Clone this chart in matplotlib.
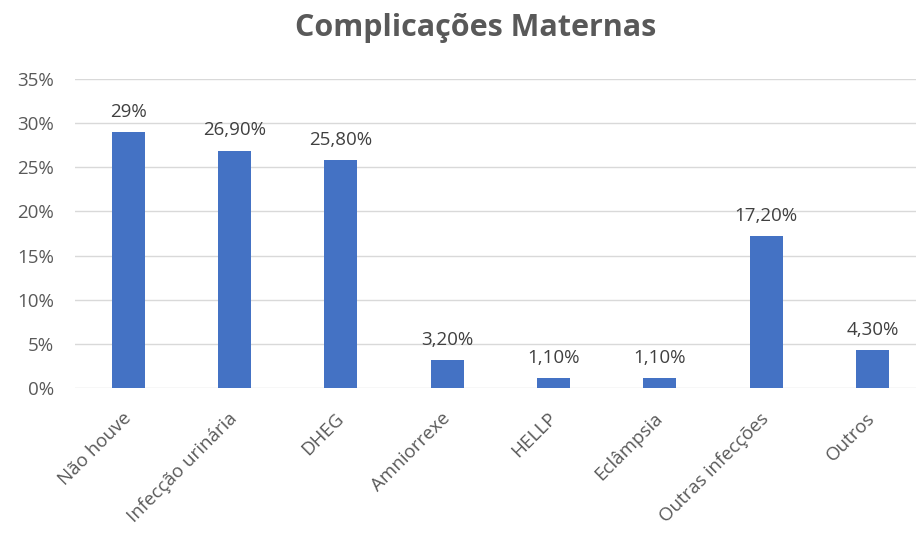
import matplotlib
matplotlib.use("Agg")
from matplotlib import pyplot as plt
from matplotlib.ticker import FuncFormatter

# chart data
categories = ["Não houve", "Infecção urinária", "DHEG", "Amniorrexe",
              "HELLP", "Eclâmpsia", "Outras infecções", "Outros"]
values = [0.29, 0.269, 0.258, 0.032, 0.011, 0.011, 0.172, 0.043]
value_labels = ["29%", "26,90%", "25,80%", "3,20%", "1,10%", "1,10%", "17,20%", "4,30%"]
y_ticks = [0, 0.05, 0.10, 0.15, 0.20, 0.25, 0.30, 0.35]

plt.rcParams["font.family"] = ["Open Sans", "DejaVu Sans"]

fig = plt.figure(figsize=(9.16, 5.35), dpi=100)
ax = fig.add_axes([75 / 916, 147 / 535, (916 - 75) / 916, (456 - 147) / 535])

x = list(range(len(categories)))
bars = ax.bar(x, values, width=0.31, color="#4472C4", zorder=3)

for rect, lab in zip(bars, value_labels):
    ax.annotate(lab, (rect.get_x() + rect.get_width() / 2, rect.get_height()),
                xytext=(0, 8), textcoords="offset points",
                ha="center", va="bottom", fontsize=13.5, color="#404040")

ax.set_xlim(-0.5, 7.41)
ax.set_ylim(0, 0.35)
ax.set_yticks(y_ticks)
ax.yaxis.set_major_formatter(FuncFormatter(lambda v, p: f"{round(v * 100)}%"))
ax.set_xticks(x)
ax.set_xticklabels(categories, rotation=45, ha="right", va="center",
                   rotation_mode="anchor")
ax.tick_params(axis="x", length=0, pad=20, labelsize=13.5, labelcolor="#595959")
ax.tick_params(axis="y", length=0, pad=15, labelsize=13.5, labelcolor="#595959")

ax.grid(axis="y", color="#D9D9D9", linewidth=1, zorder=0)
for s in ax.spines.values():
    s.set_visible(False)

fig.suptitle("Complicações Maternas", x=476 / 916, y=1 - 28 / 535, va="center",
             fontsize=22, fontweight="bold", color="#595959")

fig.savefig("out.png", dpi=100)
